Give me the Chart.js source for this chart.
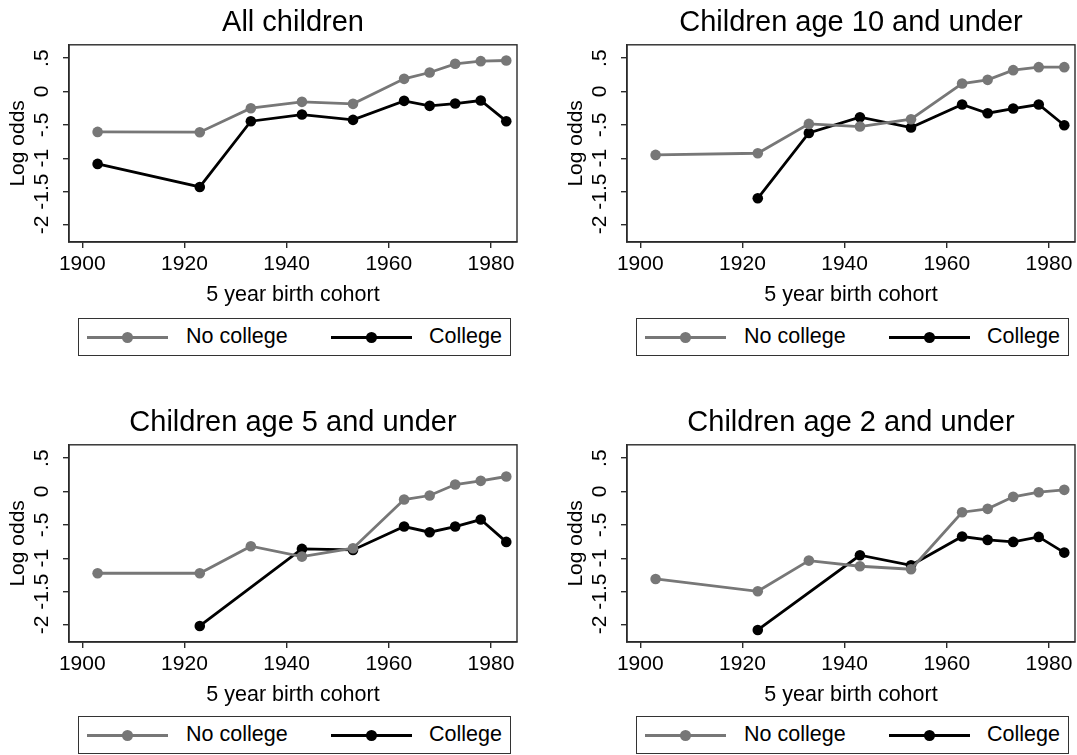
<!DOCTYPE html>
<html>
<head>
<meta charset="utf-8">
<script src="https://cdn.jsdelivr.net/npm/chart.js@4.4.1/dist/chart.umd.min.js"></script>
<style>
    body {
        margin: 0;
        background: #fff;
        width: 1077px;
        height: 755px;
        overflow: hidden;
        position: relative;
        font-family: "Liberation Sans", Arial, sans-serif;
    }
    canvas {
        position: absolute;
    }
    .legend-box {
        position: absolute;
        width: 433px;
        height: 38px;
        border: 1px solid #333;
        background: #fff;
        box-sizing: border-box;
    }
    .legend-line {
        position: absolute;
        top: 17px;
        width: 81px;
        height: 2.5px;
    }
    .legend-dot {
        position: absolute;
        top: -4px;
        left: 35px;
        width: 11px;
        height: 11px;
        border-radius: 50%;
    }
    .legend-text {
        position: absolute;
        top: 5px;
        font-size: 21.5px;
        line-height: 25px;
        color: #000;
    }
</style>
</head>
<body>

<canvas id="panel1" width="540" height="310" style="left:0px; top:0px;"></canvas>
<canvas id="panel2" width="540" height="310" style="left:558px; top:0px;"></canvas>
<canvas id="panel3" width="540" height="310" style="left:0px; top:400px;"></canvas>
<canvas id="panel4" width="540" height="310" style="left:558px; top:400px;"></canvas>

<script>
// Data
const cohorts = [1903, 1923, 1933, 1943, 1953, 1963, 1968, 1973, 1978, 1983];

const allNoCollege = [-0.605, -0.61, -0.25, -0.155, -0.185, 0.19, 0.285, 0.415, 0.455, 0.465];
const allCollege = [-1.085, -1.43, -0.445, -0.345, -0.425, -0.14, -0.215, -0.18, -0.135, -0.445];

const age10NoCollege = [-0.95, -0.925, -0.485, -0.525, -0.415, 0.12, 0.175, 0.32, 0.365, 0.365];
const age10College = [null, -1.6, -0.62, -0.385, -0.54, -0.195, -0.325, -0.255, -0.195, -0.505];

const age5NoCollege = [-1.225, -1.225, -0.82, -0.975, -0.85, -0.12, -0.06, 0.105, 0.16, 0.225];
const age5College = [null, -2.015, null, -0.86, -0.875, -0.525, -0.61, -0.525, -0.42, -0.755];

const age2NoCollege = [-1.31, -1.495, -1.035, -1.12, -1.165, -0.31, -0.26, -0.08, -0.01, 0.025];
const age2College = [null, -2.075, null, -0.955, -1.105, -0.675, -0.725, -0.755, -0.68, -0.915];

const xTicks = [1900, 1920, 1940, 1960, 1980];
const yTicks = [-2, -1.5, -1, -0.5, 0, 0.5];
const yTickLabels = ['-2', '-1.5', '-1', '-.5', '0', '.5'];

const panelTitles = ['All children', 'Children age 10 and under', 'Children age 5 and under', 'Children age 2 and under'];
const seriesLabels = ['No college', 'College'];
const xTitle = '5 year birth cohort';
const yTitle = 'Log odds';

const FONT = '"Liberation Sans", Arial, sans-serif';
const GREY = '#777777';
const DARK = '#000000';
const AXIS = '#2a2a2a';

// Draws the box round the plot region
const framePlugin = {
    id: 'frame',
    beforeDatasetsDraw(chart) {
        const a = chart.chartArea;
        const ctx = chart.ctx;
        ctx.save();
        ctx.strokeStyle = AXIS;
        ctx.lineWidth = 1.4;
        ctx.strokeRect(a.left, a.top, a.right - a.left, a.bottom - a.top);
        ctx.restore();
    }
};

function toPoints(values) {
    return cohorts.map((year, i) => ({ x: year, y: values[i] }));
}

function makePanel(canvasId, title, noCollege, college) {
    const ctx = document.getElementById(canvasId);

    new Chart(ctx, {
        type: 'line',
        data: {
            datasets: [
                {
                    label: seriesLabels[0],
                    data: toPoints(noCollege),
                    borderColor: GREY,
                    backgroundColor: GREY,
                    borderWidth: 2.8,
                    pointRadius: 5.3,
                    pointBorderWidth: 0,
                    spanGaps: true,
                    tension: 0
                },
                {
                    label: seriesLabels[1],
                    data: toPoints(college),
                    borderColor: DARK,
                    backgroundColor: DARK,
                    borderWidth: 2.8,
                    pointRadius: 5.3,
                    pointBorderWidth: 0,
                    spanGaps: true,
                    tension: 0
                }
            ]
        },
        options: {
            responsive: false,
            animation: false,
            layout: {
                padding: { left: 0, right: 23, top: 0, bottom: 0 }
            },
            plugins: {
                legend: { display: false },
                tooltip: { enabled: false },
                title: {
                    display: true,
                    text: title,
                    fullSize: false,
                    color: '#000',
                    font: { family: FONT, size: 29, weight: 'normal', lineHeight: 1.2 },
                    padding: { top: 6, bottom: 4 }
                }
            },
            scales: {
                x: {
                    type: 'linear',
                    min: 1897.4,
                    max: 1985.1,
                    afterBuildTicks: scale => {
                        scale.ticks = xTicks.map(v => ({ value: v }));
                    },
                    afterFit: scale => {
                        scale.height = 68;
                    },
                    ticks: {
                        color: '#000',
                        font: { family: FONT, size: 21 },
                        maxRotation: 0,
                        padding: 4,
                        callback: v => String(v)
                    },
                    grid: {
                        display: true,
                        drawOnChartArea: false,
                        drawTicks: true,
                        tickLength: 6,
                        color: AXIS,
                        lineWidth: 1.4
                    },
                    border: { display: true, color: AXIS, width: 1.4 },
                    title: {
                        display: true,
                        text: xTitle,
                        color: '#000',
                        font: { family: FONT, size: 21.5, lineHeight: 1.1 },
                        padding: { top: 0, bottom: 3 }
                    }
                },
                y: {
                    type: 'linear',
                    min: -2.255,
                    max: 0.7,
                    afterBuildTicks: scale => {
                        scale.ticks = yTicks.map(v => ({ value: v }));
                    },
                    afterFit: scale => {
                        scale.width = 69;
                    },
                    ticks: {
                        color: '#000',
                        font: { family: FONT, size: 21 },
                        minRotation: 90,
                        maxRotation: 90,
                        crossAlign: 'center',
                        padding: 3,
                        callback: v => yTickLabels[yTicks.indexOf(v)]
                    },
                    grid: {
                        display: true,
                        drawOnChartArea: false,
                        drawTicks: true,
                        tickLength: 6,
                        color: AXIS,
                        lineWidth: 1.4
                    },
                    border: { display: true, color: AXIS, width: 1.4 },
                    title: {
                        display: true,
                        text: yTitle,
                        color: '#000',
                        font: { family: FONT, size: 21, lineHeight: 1.2 },
                        padding: { top: 6, bottom: 0 }
                    }
                }
            }
        },
        plugins: [framePlugin]
    });
}

// Legend box drawn under each panel
function makeLegend(left, top) {
    const box = document.createElement('div');
    box.className = 'legend-box';
    box.style.left = left + 'px';
    box.style.top = top + 'px';

    const items = [
        { color: GREY, lineLeft: 8, textLeft: 107, label: seriesLabels[0] },
        { color: DARK, lineLeft: 252, textLeft: 350, label: seriesLabels[1] }
    ];
    items.forEach(item => {
        const line = document.createElement('div');
        line.className = 'legend-line';
        line.style.left = item.lineLeft + 'px';
        line.style.background = item.color;
        const dot = document.createElement('div');
        dot.className = 'legend-dot';
        dot.style.background = item.color;
        line.appendChild(dot);
        box.appendChild(line);

        const text = document.createElement('div');
        text.className = 'legend-text';
        text.style.left = item.textLeft + 'px';
        text.textContent = item.label;
        box.appendChild(text);
    });
    document.body.appendChild(box);
}

makePanel('panel1', panelTitles[0], allNoCollege, allCollege);
makePanel('panel2', panelTitles[1], age10NoCollege, age10College);
makePanel('panel3', panelTitles[2], age5NoCollege, age5College);
makePanel('panel4', panelTitles[3], age2NoCollege, age2College);

makeLegend(78, 318);
makeLegend(636, 318);
makeLegend(78, 716);
makeLegend(636, 716);
</script>
</body>
</html>
